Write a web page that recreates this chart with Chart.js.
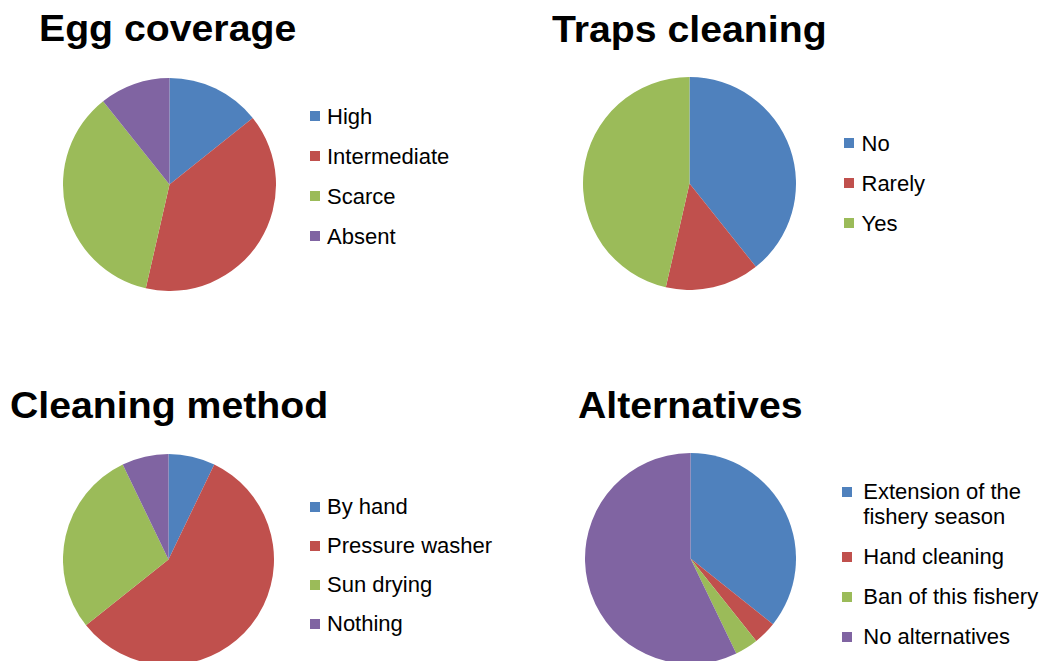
<!DOCTYPE html>
<html>
<head>
<meta charset="utf-8">
<script src="https://cdn.jsdelivr.net/npm/chart.js@4.4.1/dist/chart.umd.min.js"></script>
<style>
  html, body { margin:0; padding:0; background:#fff; overflow:hidden; }
  body { width:1042px; height:661px; position:relative; font-family:"Liberation Sans", Arial, sans-serif; }
  .title { position:absolute; font-weight:bold; font-size:37px; line-height:37px; color:#000; white-space:nowrap; transform:scaleX(1.06); transform-origin:left top; }
  .pie { position:absolute; }
  .legend { position:absolute; font-size:22px; line-height:25px; color:#000; }
  .row { display:flex; align-items:flex-start; white-space:nowrap; }
  .box { width:10px; height:10px; margin-top:7.3px; flex:none; }
</style>
</head>
<body>
<div class="title" style="left:38.8px; top:9.7px;">Egg coverage</div>
<div class="title" style="left:552px; top:11.4px;">Traps cleaning</div>
<div class="title" style="left:10px; top:387px;">Cleaning method</div>
<div class="title" style="left:578px; top:387px;">Alternatives</div>

<canvas id="eggChart"    class="pie" width="213" height="213" style="left:63px; top:78px;"></canvas>
<canvas id="trapChart"   class="pie" width="213" height="213" style="left:583px; top:77px;"></canvas>
<canvas id="methodChart" class="pie" width="211" height="211" style="left:63px; top:454px;"></canvas>
<canvas id="altChart"    class="pie" width="211" height="211" style="left:585px; top:453px;"></canvas>

<div id="eggLegend"    class="legend" style="left:310px; top:103.5px;"></div>
<div id="trapLegend"   class="legend" style="left:844px; top:131px;"></div>
<div id="methodLegend" class="legend" style="left:310px; top:494.4px;"></div>
<div id="altLegend"    class="legend" style="left:841.7px; top:479.4px;"></div>

<script>
// ── DATA ──
const eggLabels    = ['High', 'Intermediate', 'Scarce', 'Absent'];
const eggValues    = [4, 11, 10, 3];

const trapLabels   = ['No', 'Rarely', 'Yes'];
const trapValues   = [11, 4, 13];

const methodLabels = ['By hand', 'Pressure washer', 'Sun drying', 'Nothing'];
const methodValues = [1, 8, 4, 1];

const altLabels    = [['Extension of the', 'fishery season'], 'Hand cleaning', 'Ban of this fishery', 'No alternatives'];
const altValues    = [10, 1, 1, 16];

const sliceColors  = ['#4F81BD', '#C0504D', '#9BBB59', '#8064A2'];

// ── PIE ──
function makePie(canvasId, labels, values) {
  const ctx = document.getElementById(canvasId).getContext('2d');
  return new Chart(ctx, {
    type: 'pie',
    data: {
      labels,
      datasets: [{
        data: values,
        backgroundColor: sliceColors.slice(0, values.length),
        borderWidth: 0,
        hoverOffset: 0,
        offset: 0,
      }]
    },
    options: {
      responsive: false,
      animation: false,
      events: [],
      layout: { padding: 0 },
      plugins: { legend: { display: false }, tooltip: { enabled: false } }
    }
  });
}

// ── LEGEND ──
function makeLegend(legendId, chart, textLeft, gap) {
  const el = document.getElementById(legendId);
  const labels = chart.data.labels;
  const colors = chart.data.datasets[0].backgroundColor;
  labels.forEach((lab, i) => {
    const row = document.createElement('div');
    row.className = 'row';
    if (i > 0) row.style.marginTop = gap + 'px';
    const box = document.createElement('span');
    box.className = 'box';
    box.style.background = colors[i];
    const txt = document.createElement('span');
    txt.style.marginLeft = (textLeft - 10) + 'px';
    txt.innerHTML = Array.isArray(lab) ? lab.join('<br>') : lab;
    row.appendChild(box);
    row.appendChild(txt);
    el.appendChild(row);
  });
}

const eggChart    = makePie('eggChart', eggLabels, eggValues);
const trapChart   = makePie('trapChart', trapLabels, trapValues);
const methodChart = makePie('methodChart', methodLabels, methodValues);
const altChart    = makePie('altChart', altLabels, altValues);

makeLegend('eggLegend', eggChart, 17, 15);
makeLegend('trapLegend', trapChart, 17.5, 15);
makeLegend('methodLegend', methodChart, 17, 14);
makeLegend('altLegend', altChart, 21.6, 15);
</script>
</body>
</html>
